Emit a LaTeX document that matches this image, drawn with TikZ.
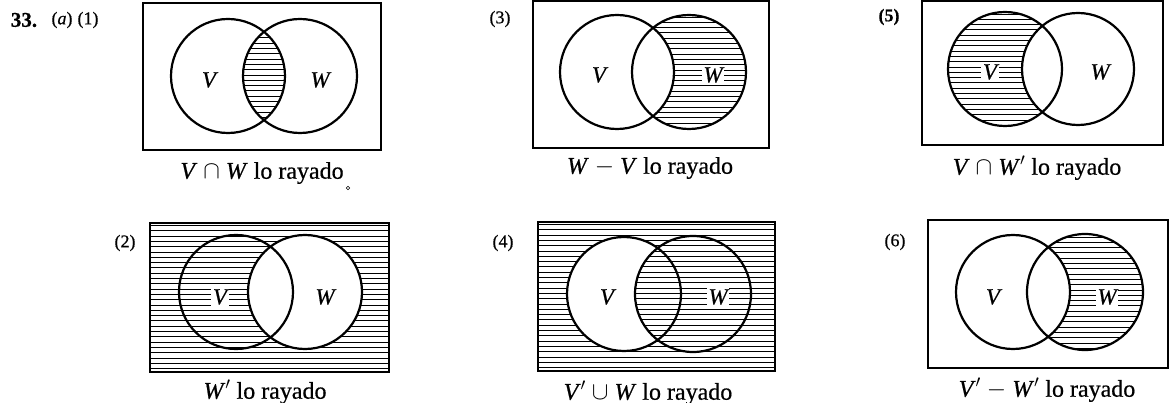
\documentclass[tikz,border=0pt]{standalone}
\usepackage{fontspec}
\setmainfont{Liberation Serif}[FakeBold=0.6]
\tikzset{
  frame/.style={line width=1.5pt},
  ring/.style={line width=2.2pt},
  hatchline/.style={line width=0.9pt},
  lbl/.style={font=\fontsize{23}{25}\selectfont\itshape, inner sep=1.5pt, fill=white},
  captext/.style={font=\fontsize{24}{28}\selectfont, inner sep=0pt},
  num/.style={font=\fontsize{18}{20}\selectfont, inner sep=0pt},
}
\newcommand\hatchrows[4]{\foreach \k in {0,...,#4} \draw[hatchline] (#1,{#3+\k*5.3}) -- (#2,{#3+\k*5.3});}
\begin{document}
\begin{tikzpicture}[x=1pt,y=-1pt]
\useasboundingbox (0,0) rectangle (1174,403);
% header
\node[num] (n33) at (24,20) {\fontsize{21}{22}\selectfont\bfseries 33.};
\node[num] (na) at (62,20) {(\textit{a})};
\node[num] (n1) at (88,20) {(1)};
% ---------- Panel 1 : V cap W
\begin{scope}
  \clip (228,76) circle[radius=57];
  \clip (300,76) circle[radius=57];
  \hatchrows{240}{290}{22}{21}
\end{scope}
\draw[ring] (228,76) circle[radius=57];
\draw[ring] (300,76) circle[radius=57];
\draw[frame] (143,3) rectangle (381,150);
\node[lbl] (v1) at (209,80) {V};
\node[lbl] (w1) at (320,80) {W};
\node[captext] (c1) at (262,173) {\textit{V} $\cap$ \textit{W} lo rayado};
\draw[line width=0.6pt] (348,188) circle[radius=1.8];
% ---------- Panel 3 : W - V
\node[num] (n3) at (500,19) {(3)};
\begin{scope}
  \clip (689,72) circle[radius=57];
  \hatchrows{630}{750}{17}{21}
  \fill[white] (617,72) circle[radius=57];
\end{scope}
\draw[ring] (617,72) circle[radius=57];
\draw[ring] (689,72) circle[radius=57];
\draw[frame] (533,0.8) rectangle (769,148);
\node[lbl] (v3) at (599,75) {V};
\node[lbl] (w3) at (713,75) {W};
\node[captext] (c3) at (650,168) {\textit{W} $-$ \textit{V} lo rayado};
% ---------- Panel 5 : V cap W'
\node[num] (n5) at (889,17) {\bfseries (5)};
\begin{scope}
  \clip (1005,69) circle[radius=57];
  \hatchrows{945}{1065}{14}{21}
  \fill[white] (1078,69) circle[radius=56];
\end{scope}
\draw[ring] (1005,69) circle[radius=57];
\draw[ring] (1078,69) circle[radius=56];
\draw[frame] (922,0.8) rectangle (1163,145);
\node[lbl] (v5) at (990,72) {V};
\node[lbl] (w5) at (1100,72) {W};
\node[captext] (c5) at (1037,168) {\textit{V} $\cap$ \textit{W}$'$ lo rayado};
% ---------- Panel 2 : W'
\node[num] (n2) at (125,243) {(2)};
\begin{scope}
  \clip (150,223) rectangle (389,372);
  \hatchrows{150}{389}{225.5}{27}
  \fill[white] (305,292) circle[radius=57];
\end{scope}
\draw[ring] (236,292) circle[radius=57];
\draw[ring] (305,292) circle[radius=57];
\draw[frame] (150,223) rectangle (389,372);
\node[lbl] (v2) at (220,297) {V};
\node[lbl] (w2) at (325,297) {W};
\node[captext] (c2) at (265,392) {\textit{W}$'$ lo rayado};
% ---------- Panel 4 : V' cup W
\node[num] (n4) at (503,243) {(4)};
\begin{scope}
  \clip (538,222) rectangle (775,371);
  \hatchrows{538}{775}{224.5}{27}
\end{scope}
\begin{scope}
  \clip (624,294) circle[radius=57];
  \fill[white] (538,222) rectangle (775,371);
  \clip (693,294) circle[radius=58];
  \hatchrows{538}{775}{224.5}{27}
\end{scope}
\draw[ring] (624,294) circle[radius=57];
\draw[ring] (693,294) circle[radius=58];
\draw[frame] (538,222) rectangle (775,371);
\node[lbl] (v4) at (607,297) {V};
\node[lbl] (w4) at (718,297) {W};
\node[captext] (c4) at (648,393) {\textit{V}$'$ $\cup$ \textit{W} lo rayado};
% ---------- Panel 6 : V' - W'
\node[num] (n6) at (895,242) {(6)};
\begin{scope}
  \clip (1085,292) circle[radius=58];
  \hatchrows{1025}{1145}{237}{21}
  \fill[white] (1013,292) circle[radius=57];
\end{scope}
\draw[ring] (1013,292) circle[radius=57];
\draw[ring] (1085,292) circle[radius=58];
\draw[frame] (928,220) rectangle (1168,368);
\node[lbl] (v6) at (993,297) {V};
\node[lbl] (w6) at (1107,297) {W};
\node[captext] (c6) at (1047,390) {\textit{V}$'$ $-$ \textit{W}$'$ lo rayado};
\end{tikzpicture}
\end{document}
